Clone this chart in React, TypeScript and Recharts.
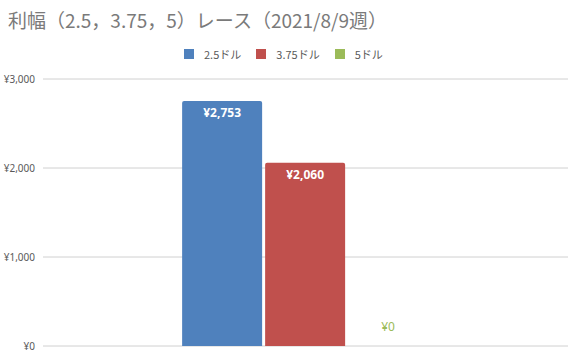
import React from "react";
import { BarChart, Bar, XAxis, YAxis, CartesianGrid } from "recharts";

const categories = ["2021/8/9週"];
const seriesNames = ["2.5ドル", "3.75ドル", "5ドル"];
const seriesKeys = ["s25", "s375", "s5"];
const seriesColors = ["#4F81BD", "#C0504D", "#9BBB59"];
const series25 = [2753];
const series375 = [2060];
const series5 = [0];
const yTicks = [0, 1000, 2000, 3000];

const data = categories.map((c, i) => ({
  name: c,
  s25: series25[i],
  s375: series375[i],
  s5: series5[i],
}));

const fmt = (v: number) => "¥" + Number(v).toLocaleString("en-US");

const makeShape = (color: string, key: string) => (props: any) => {
  const { x, y, width, height, payload } = props;
  const value = Number(payload ? payload[key] : props.value);
  const zero = value === 0;
  const r = 2;
  const h = Math.max(0, height);
  const path =
    h > 0
      ? `M${x},${y + h} L${x},${y + r} Q${x},${y} ${x + r},${y} L${x + width - r},${y} Q${x + width},${y} ${x + width},${y + r} L${x + width},${y + h} Z`
      : "";
  return (
    <g>
      {h > 0 && <path d={path} fill={color} />}
      <text
        x={x + width / 2}
        y={zero ? y - 15 : y + 16}
        textAnchor="middle"
        fill={zero ? color : "#ffffff"}
        fontWeight={zero ? 400 : 700}
        fontSize={12}
        fontFamily="'Noto Sans', sans-serif"
      >
        {fmt(value)}
      </text>
    </g>
  );
};

export default function App() {
  return (
    <div style={{ position: "absolute", left: 0, top: 0, width: 579, height: 357, background: "#fff" }}>
      <div
        style={{
          position: "absolute",
          left: 8,
          top: 6,
          fontSize: 19,
          color: "#7a7a7a",
          fontFamily: "'Noto Sans CJK JP', sans-serif",
          whiteSpace: "nowrap",
          lineHeight: "28px",
        }}
      >
        利幅（2.5，3.75，5）レース（2021/8/9週）
      </div>
      <div
        style={{
          position: "absolute",
          left: 184,
          top: 46,
          display: "flex",
          alignItems: "center",
          fontSize: 11,
          color: "#595959",
          fontFamily: "'Noto Sans CJK JP', sans-serif",
          whiteSpace: "nowrap",
          height: 16,
        }}
      >
        {seriesNames.map((n, i) => (
          <div key={n} style={{ display: "flex", alignItems: "center", marginRight: 15 }}>
            <span style={{ display: "inline-block", width: 10, height: 10, background: seriesColors[i], marginRight: 10 }} />
            <span>{n}</span>
          </div>
        ))}
      </div>
      <BarChart
        width={579}
        height={357}
        data={data}
        margin={{ top: 79, right: 11, bottom: 11, left: 0 }}
        barCategoryGap="26.5%"
        barGap={3}
      >
        <CartesianGrid vertical={false} stroke="#d0d0d0" />
        <XAxis dataKey="name" tick={false} height={0} axisLine={{ stroke: "#404040" }} tickLine={false} />
        <YAxis
          width={43}
          domain={[0, 3000]}
          ticks={yTicks}
          tickFormatter={fmt}
          axisLine={false}
          tickLine={false}
          tick={{ fontSize: 10, fill: "#595959", fontFamily: "'Noto Sans', sans-serif" }}
        />
        {seriesKeys.map((k, i) => (
          <Bar
            key={k}
            dataKey={k}
            name={seriesNames[i]}
            fill={seriesColors[i]}
            isAnimationActive={false}
            shape={makeShape(seriesColors[i], k)}
          />
        ))}
      </BarChart>
    </div>
  );
}
